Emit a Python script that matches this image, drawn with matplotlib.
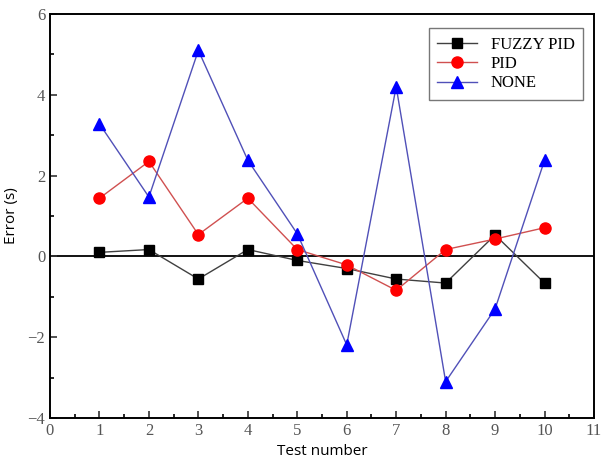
import numpy as np
import matplotlib.pyplot as plt
from matplotlib.ticker import MultipleLocator

tests = [1, 2, 3, 4, 5, 6, 7, 8, 9, 10]
fuzzy_pid = [0.1, 0.17, -0.56, 0.17, -0.1, -0.3, -0.56, -0.66, 0.53, -0.66]
pid = [1.44, 2.35, 0.54, 1.44, 0.17, -0.21, -0.84, 0.17, 0.43, 0.71]
none = [3.28, 1.47, 5.1, 2.38, 0.56, -2.19, 4.2, -3.1, -1.3, 2.38]

serif = ['Liberation Serif', 'DejaVu Serif']

fig = plt.figure(figsize=(6.01, 4.72), dpi=100)
ax = fig.add_axes([50 / 601, 1 - 418 / 472, 544 / 601, 404 / 472])

ax.axhline(0, color='black', linewidth=1.3, zorder=1)
ax.plot(tests, fuzzy_pid, color='#404040', linewidth=1, marker='s', markersize=7,
        markerfacecolor='black', markeredgecolor='black', label='FUZZY PID', zorder=3)
ax.plot(tests, pid, color='#d05050', linewidth=1, marker='o', markersize=8,
        markerfacecolor='red', markeredgecolor='red', label='PID', zorder=3)
ax.plot(tests, none, color='#5050b8', linewidth=1, marker='^', markersize=8,
        markerfacecolor='blue', markeredgecolor='blue', label='NONE', zorder=3)

ax.set_xlim(0, 11)
ax.set_ylim(-4, 6)
ax.xaxis.set_major_locator(MultipleLocator(1))
ax.xaxis.set_minor_locator(MultipleLocator(0.5))
ax.yaxis.set_major_locator(MultipleLocator(2))
ax.yaxis.set_minor_locator(MultipleLocator(1))
ax.tick_params(which='both', direction='in', top=False, right=False, width=1.2)
ax.tick_params(which='major', length=5, labelsize=12, colors='#333333', labelcolor='#555555')
ax.tick_params(which='minor', length=3)
for lab in ax.get_xticklabels() + ax.get_yticklabels():
    lab.set_family(serif)
for sp in ax.spines.values():
    sp.set_linewidth(1.4)

ax.set_xlabel('Test number', fontsize=11, family=['Open Sans', 'DejaVu Sans'], labelpad=4)
ax.set_ylabel('Error (s)', fontsize=11, family=['Open Sans', 'DejaVu Sans'], labelpad=6)

leg = ax.legend(loc='upper right', bbox_to_anchor=(0.995, 0.985), fancybox=False,
                edgecolor='#777777', framealpha=1, prop={'family': serif, 'size': 12},
                handlelength=2.4, borderpad=0.5, labelspacing=0.2)
leg.get_frame().set_linewidth(1)

fig.savefig('out.png', dpi=100)
